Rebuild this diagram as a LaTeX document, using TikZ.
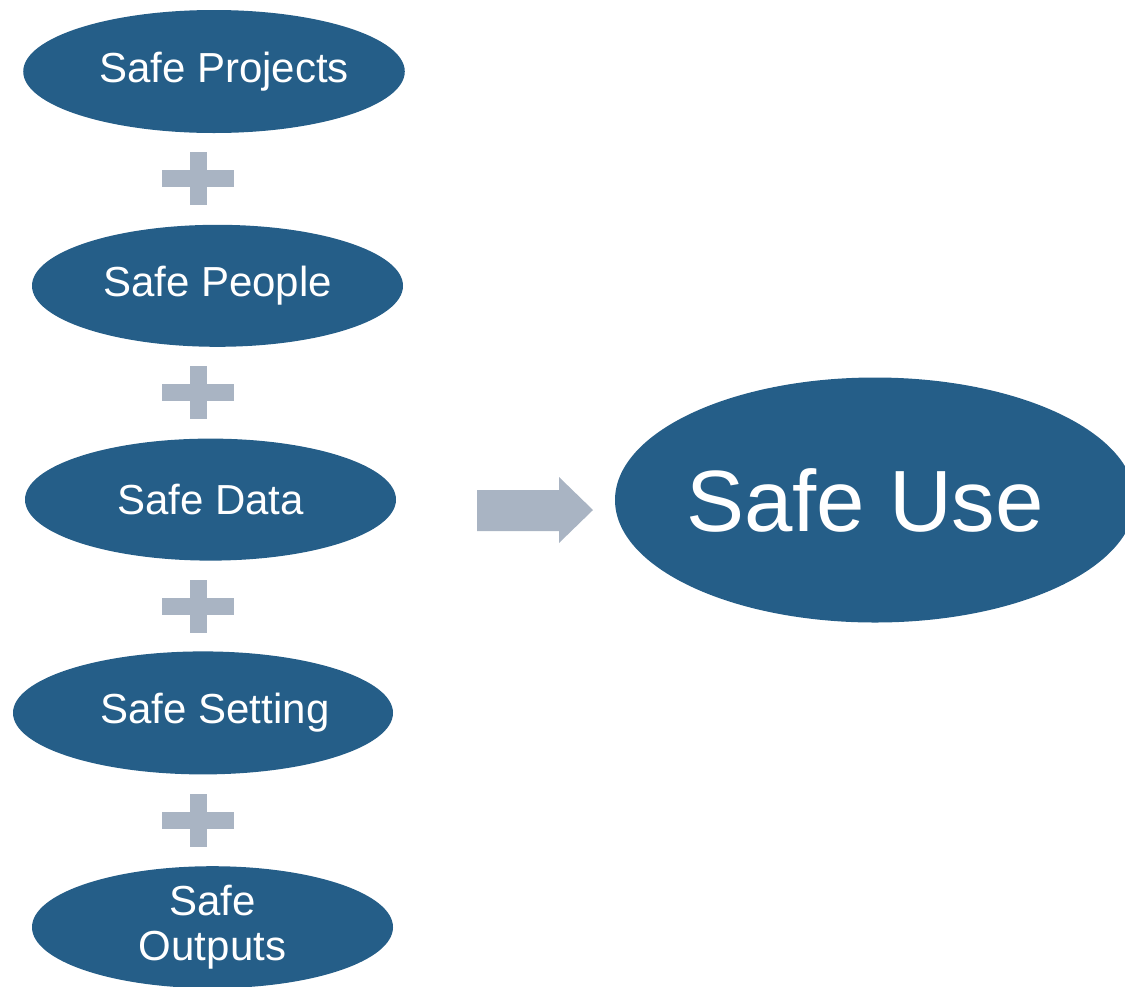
\documentclass[tikz,border=0pt]{standalone}
\usepackage{fontspec}
\setmainfont{Liberation Sans}
\usepackage{tikz}
\usetikzlibrary{positioning, shapes.geometric}

\definecolor{safeblue}{HTML}{255E88}
\definecolor{plusgray}{HTML}{A9B4C3}

\begin{document}
\begin{tikzpicture}[x=0.5pt, y=-0.5pt]
	% Define styles
	\tikzset{
		safe/.style={ellipse, fill=safeblue, text=white, inner sep=0pt, align=center,
			font=\fontsize{21}{22.5}\selectfont},
		total/.style={safe, font=\fontsize{43.5}{48}\selectfont},
		filler/.style={fill=plusgray, draw=none},
		cross/.pic={
			\fill[filler] (-36,-8.5) rectangle (36,8.5);
			\fill[filler] (-8.5,-26.5) rectangle (8.5,26.5);
		}
	}
	\useasboundingbox (0,0) rectangle (1125,986);
	\clip (0,0) rectangle (1125,986);

	% Nodes
	\node[safe, minimum width=189pt, minimum height=61.5pt] (proj) at (214,71.5) {\hspace*{10pt}Safe Projects};
	\node[safe, minimum width=185.5pt, minimum height=61pt, below=45.5pt of proj, xshift=1.75pt] (people) {Safe People};
	\node[safe, minimum width=185.5pt, minimum height=61pt, below=45.5pt of people, xshift=-3.5pt] (data) {Safe Data};
	\node[safe, minimum width=190pt, minimum height=61.5pt, below=45pt of data, xshift=-3.75pt] (setting) {\hspace*{12pt}Safe Setting};
	\node[safe, minimum width=180.5pt, minimum height=61pt, below=45.5pt of setting, xshift=4.75pt] (outputs) {Safe\\Outputs};

	\node[total, minimum width=260pt, minimum height=122.5pt] (use) at (875,500) {\hspace*{-10pt}Safe Use};

	% Plus signs
	\foreach \a/\b in {proj/people, people/data, data/setting, setting/outputs} {
		\path (\a.south) -- (\b.north) coordinate[midway] (mid);
		\pic at (198,0 |- mid) {cross};
	}

	% Arrow
	\fill[filler] (477,490) -- (559,490) -- (559,477) -- (593,510)
		-- (559,543) -- (559,531) -- (477,531) -- cycle;
\end{tikzpicture}
\end{document}
